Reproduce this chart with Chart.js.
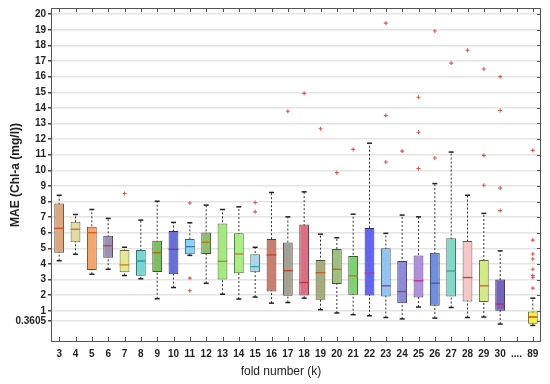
<!DOCTYPE html>
<html>
<head>
<meta charset="utf-8">
<script src="https://cdn.jsdelivr.net/npm/chart.js@4.4.1/dist/chart.umd.min.js"></script>
<style>
  html, body { margin: 0; padding: 0; background: #fff; }
</style>
</head>
<body>
<canvas id="chart" width="550" height="384"></canvas>
<script>
const categories = ['3','4','5','6','7','8','9','10','11','12','13','14','15','16','17','18','19','20',
  '21','22','23','24','25','26','27','28','29','30','....','89'];

const whiskerLow  = [4.21,4.62,3.34,3.66,3.26,3.05,1.77,2.49,4.55,2.76,2.06,1.75,1.88,1.49,1.53,1.81,1.07,0.86,
  0.75,0.68,0.57,0.48,1.24,0.53,1.21,0.57,0.60,0.15,null,0.06];
const q1          = [4.72,5.39,3.62,4.40,3.47,3.25,3.49,3.34,4.62,4.64,3.00,3.41,3.47,2.24,1.96,1.98,1.70,2.71,
  2.02,1.98,1.92,1.49,1.85,1.32,1.92,1.60,1.56,1.00,null,0.17];
const median      = [6.28,6.22,6.00,5.17,3.94,4.19,4.72,4.94,5.11,5.39,4.17,4.64,3.83,4.58,3.57,2.81,3.44,3.66,
  3.24,3.41,2.60,2.23,2.92,2.77,3.55,3.13,2.60,1.43,null,0.60];
const q3          = [7.87,6.70,6.38,5.81,4.90,4.90,5.49,6.11,5.60,6.02,6.60,5.96,4.62,5.60,5.37,6.53,4.26,4.96,
  4.51,6.30,5.00,4.19,4.55,4.72,5.64,5.47,4.26,3.00,null,0.96];
const whiskerHigh = [8.40,7.17,7.49,6.92,5.07,6.81,8.02,6.66,6.64,7.77,7.49,7.66,5.07,8.58,7.02,8.62,5.91,5.68,
  7.19,11.74,5.96,7.13,7.02,9.15,11.17,8.40,7.24,4.84,null,1.81];

// outliers, one list per category
const outliers = [[],[],[],[],[8.51],[],[],[],[7.91,3.09,2.28],[],[],[],[7.94,7.34],[],[13.78],[14.93],[12.66],[9.85],
  [11.34],[],[19.43,13.51,10.53],[11.23],[14.68,12.44,10.11],[18.93,10.79],[16.87],[17.70],[16.49,10.96,9.04],
  [16.0,13.83,8.87,7.42],[],[11.28,5.53,4.64,4.32,3.66,3.26,3.15,2.45]];

const yTicks = [0.3605,1,2,3,4,5,6,7,8,9,10,11,12,13,14,15,16,17,18,19,20];

const boxColors = ['#dba77f','#e3dca0','#f3a56a','#9c8fb0','#e2e98e','#72d8d6','#7fbf5f','#6670d8','#86d3f3','#8dbf6d',
  '#a3ea7c','#a6f07f','#a9d7e6','#c97f6c','#a3a190','#dc6f82','#a7ad7a','#9fc07d','#7fd270','#6464f2',
  '#93c3f0','#8b8bda','#b190e0','#6f8fe0','#84d8c6','#f6c7c8','#d4ea84','#7565bb','#ffffff','#f8ee3c'];
const medianColors = ['#c8502a','#c8702a','#e05a20','#c04050','#c87a20','#2a90a0','#a07020','#6040a0','#3a80b0','#b07a20',
  '#b08030','#b08030','#3aa0c0','#c04030','#c04030','#c03040','#c06020','#c06020','#c07020','#b04080',
  '#8040a0','#a03080','#c03090','#5050b0','#40a090','#c04040','#d06020','#c02080','#000000','#c04020'];

function darken(hex, f) {
  const n = parseInt(hex.slice(1), 16);
  const r = Math.round(((n >> 16) & 255) * f);
  const g = Math.round(((n >> 8) & 255) * f);
  const b = Math.round((n & 255) * f);
  return 'rgb(' + r + ',' + g + ',' + b + ')';
}

const boxData = categories.map((c, i) => q1[i] == null ? null : [q1[i], q3[i]]);
const outlierPoints = [];
categories.forEach((c, i) => outliers[i].forEach(v => outlierPoints.push({ x: c, y: v })));

const narrow = '"Liberation Sans Narrow", "Arial Narrow", "Liberation Sans", sans-serif';

// whiskers, medians, caps and the frame with inner ticks
const boxPlugin = {
  id: 'boxPlugin',
  beforeDatasetsDraw(chart) {
    const ctx = chart.ctx;
    const y = chart.scales.y;
    const meta = chart.getDatasetMeta(0);
    ctx.save();
    ctx.strokeStyle = '#333';
    ctx.lineWidth = 1;
    ctx.setLineDash([2, 2]);
    meta.data.forEach((bar, i) => {
      if (whiskerLow[i] == null) return;
      ctx.beginPath();
      ctx.moveTo(bar.x, y.getPixelForValue(whiskerLow[i]));
      ctx.lineTo(bar.x, y.getPixelForValue(whiskerHigh[i]));
      ctx.stroke();
    });
    ctx.restore();
  },
  afterDatasetsDraw(chart) {
    const ctx = chart.ctx;
    const y = chart.scales.y;
    const meta = chart.getDatasetMeta(0);
    ctx.save();
    meta.data.forEach((bar, i) => {
      if (median[i] == null) return;
      const half = bar.width / 2;
      ctx.strokeStyle = medianColors[i];
      ctx.lineWidth = 1.3;
      ctx.beginPath();
      const my = y.getPixelForValue(median[i]);
      ctx.moveTo(bar.x - half, my);
      ctx.lineTo(bar.x + half, my);
      ctx.stroke();
      ctx.strokeStyle = '#222';
      ctx.lineWidth = 1.5;
      [whiskerLow[i], whiskerHigh[i]].forEach(v => {
        const py = y.getPixelForValue(v);
        ctx.beginPath();
        ctx.moveTo(bar.x - 2.5, py);
        ctx.lineTo(bar.x + 2.5, py);
        ctx.stroke();
      });
    });
    ctx.restore();
  },
  afterDraw(chart) {
    const ctx = chart.ctx;
    const a = chart.chartArea;
    const y = chart.scales.y;
    const x = chart.scales.x;
    ctx.save();
    ctx.strokeStyle = '#555';
    ctx.lineWidth = 1;
    ctx.strokeRect(a.left + 0.5, a.top + 0.5, a.right - a.left - 1, a.bottom - a.top - 1);
    categories.forEach((c, i) => {
      const px = Math.round(x.getPixelForValue(i)) + 0.5;
      ctx.beginPath();
      ctx.moveTo(px, a.top);
      ctx.lineTo(px, a.top + 4);
      ctx.moveTo(px, a.bottom - 5);
      ctx.lineTo(px, a.bottom);
      ctx.stroke();
    });
    yTicks.forEach(v => {
      const py = Math.round(y.getPixelForValue(v)) + 0.5;
      ctx.beginPath();
      ctx.moveTo(a.right - 4, py);
      ctx.lineTo(a.right, py);
      ctx.stroke();
    });
    ctx.fillStyle = '#222';
    ctx.font = '12px ' + narrow;
    ctx.textAlign = 'center';
    ctx.textBaseline = 'middle';
    ctx.fillText('fold number (k)', 281, 372);
    ctx.restore();
  }
};

new Chart(document.getElementById('chart'), {
  type: 'bar',
  data: {
    labels: categories,
    datasets: [{
      type: 'bar',
      data: boxData,
      backgroundColor: boxColors,
      borderColor: boxColors.map(c => darken(c, 0.45)),
      borderWidth: 1,
      borderSkipped: false,
      barPercentage: 0.6,
      categoryPercentage: 1
    }, {
      type: 'scatter',
      data: outlierPoints,
      pointStyle: 'cross',
      pointRadius: 2,
      borderColor: '#d85a5c',
      borderWidth: 1.1
    }]
  },
  options: {
    responsive: false,
    animation: false,
    layout: { padding: { top: 7, right: 9, left: 0, bottom: 0 } },
    plugins: {
      legend: { display: false },
      tooltip: { enabled: false }
    },
    scales: {
      x: {
        type: 'category',
        offset: true,
        grid: { display: false, drawTicks: false, tickLength: 0 },
        border: { display: false },
        ticks: {
          color: '#222',
          padding: 6,
          maxRotation: 0,
          autoSkip: false,
          font: { family: narrow, size: 10, weight: 'bold' }
        },
        afterFit(scale) { scale.height = 42; }
      },
      y: {
        min: -1,
        max: 20.4,
        border: { display: false },
        grid: { color: '#e4e4e4', lineWidth: 1.5, drawTicks: true, tickLength: 3, tickColor: '#444' },
        afterBuildTicks(scale) { scale.ticks = yTicks.map(v => ({ value: v })); },
        ticks: {
          color: '#222',
          padding: 2,
          font: { family: narrow, size: 10, weight: 'bold' },
          callback: v => String(v)
        },
        title: {
          display: true,
          text: 'MAE (Chl-a (mg/l))',
          color: '#222',
          padding: { top: 8, bottom: 0 },
          font: { family: '"Liberation Sans", Arial, sans-serif', size: 12, weight: 'bold' }
        },
        afterFit(scale) { scale.width = 51; }
      }
    }
  },
  plugins: [boxPlugin]
});
</script>
</body>
</html>
